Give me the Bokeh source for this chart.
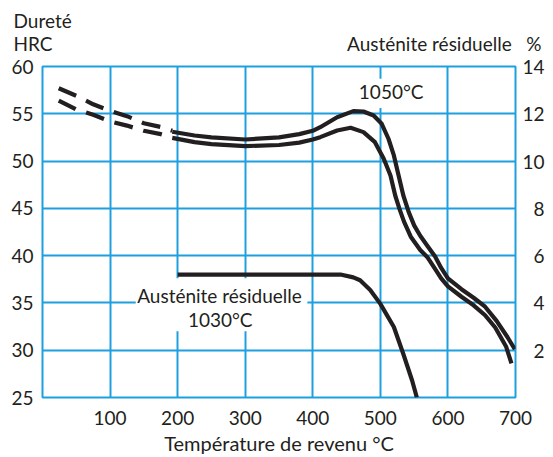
from bokeh.plotting import figure
from bokeh.models import Range1d, FixedTicker, Label, LinearAxis, Title
from bokeh.embed import file_html
from bokeh.resources import INLINE

# ---- data ----
temp_upper_dash = [24, 50, 75, 100, 125, 150, 175, 192]
hrc_upper_dash = [57.7, 56.9, 56.0, 55.3, 54.75, 54.0, 53.6, 53.2]
temp_upper = [192, 225, 250, 300, 350, 380, 400, 411, 436, 460, 475, 490, 502, 512, 520,
              527, 534, 542, 550, 559, 570, 581, 590, 600, 620, 638, 655, 672, 688, 699]
hrc_upper = [53.1, 52.7, 52.5, 52.28, 52.5, 52.85, 53.2, 53.58, 54.64, 55.28, 55.24, 54.82,
             53.94, 52.36, 50.6, 48.48, 46.36, 44.6, 43.2, 42.1, 41.0, 39.9, 38.7, 37.6,
             36.45, 35.55, 34.6, 33.1, 31.4, 30.1]

temp_lower_dash = [24, 50, 75, 100, 125, 150, 175, 192]
hrc_lower_dash = [56.4, 55.45, 54.9, 54.2, 53.75, 53.2, 52.85, 52.5]
temp_lower = [192, 225, 250, 300, 350, 380, 400, 411, 436, 456, 475, 492, 505, 515, 522,
              528, 535, 545, 559, 570, 580, 590, 600, 620, 638, 655, 670, 686, 694]
hrc_lower = [52.45, 52.0, 51.8, 51.58, 51.7, 51.95, 52.28, 52.53, 53.23, 53.52, 53.06, 52.0,
             50.24, 48.48, 46.36, 45.0, 43.6, 42.0, 40.6, 39.8, 38.7, 37.6, 36.75, 35.65,
             34.75, 33.7, 32.4, 30.4, 28.6]

temp_aust = [200, 300, 400, 441, 460, 470, 485, 500, 520, 534, 547, 554]
pct_aust = [5.2, 5.2, 5.2, 5.2, 5.08, 4.96, 4.55, 3.96, 2.98, 1.84, 0.72, 0.0]

x_ticks = [100, 200, 300, 400, 500, 600, 700]
y_ticks = [25, 30, 35, 40, 45, 50, 55, 60]
right_ticks = [2, 4, 6, 8, 10, 12, 14]

# ---- style ----
BLUE = "#1ea0e0"
INK = "#231f20"
FONT = "Lato"
FS = "19px"
FIG = "\u2007"   # figure space, pads one-digit labels so they line up on the right
NB = "\u00a0"

p = figure(width=553, height=457, x_range=Range1d(0, 700), y_range=Range1d(25, 60),
           output_backend="svg", toolbar_location=None,
           min_border_left=42, min_border_right=38, min_border_top=66, min_border_bottom=60)
p.extra_y_ranges = {"aust": Range1d(0, 14)}

p.background_fill_color = "white"
p.border_fill_color = "white"
p.outline_line_color = BLUE
p.outline_line_width = 2


def style_axis(ax, standoff):
    ax.axis_line_color = None
    ax.major_tick_line_color = None
    ax.minor_tick_line_color = None
    ax.major_tick_out = 0
    ax.major_tick_in = 0
    ax.minor_tick_out = 0
    ax.minor_tick_in = 0
    ax.major_label_text_font = FONT
    ax.major_label_text_font_size = FS
    ax.major_label_text_color = INK
    ax.major_label_standoff = standoff


style_axis(p.xaxis[0], 13)
style_axis(p.yaxis[0], 9)
p.xaxis.ticker = FixedTicker(ticks=x_ticks)
p.yaxis.ticker = FixedTicker(ticks=y_ticks)
p.xaxis.axis_label = "Température de revenu °C"
p.xaxis.axis_label_text_font = FONT
p.xaxis.axis_label_text_font_size = "20px"
p.xaxis.axis_label_text_font_style = "normal"
p.xaxis.axis_label_text_color = INK
p.xaxis.axis_label_standoff = 3

# right axis: residual austenite %
raxis = LinearAxis(y_range_name="aust", ticker=FixedTicker(ticks=right_ticks))
style_axis(raxis, 7)
raxis.major_label_overrides = {t: (FIG + str(t) if t < 10 else str(t)) for t in right_ticks}
p.add_layout(raxis, "right")

# title of the right axis (nearest the frame), right-aligned past the frame edge
t_right = Title(text="Austénite résiduelle" + NB * 3 + "%\n" + NB, align="right", offset=-26,
                vertical_align="bottom", standoff=-22, text_font=FONT, text_font_size=FS,
                text_font_style="normal", text_color=INK, text_line_height=1.0)
p.add_layout(t_right, "above")

# title of the left axis, two lines
t_left = Title(text="Dureté\nHRC", align="left", offset=-29, vertical_align="bottom",
               standoff=-28, text_font=FONT, text_font_size=FS, text_font_style="normal",
               text_color=INK, text_line_height=1.0)
p.add_layout(t_left, "above")

p.xgrid.grid_line_color = BLUE
p.ygrid.grid_line_color = BLUE
p.xgrid.grid_line_width = 2
p.ygrid.grid_line_width = 2

# white boxes behind the in-plot labels
p.quad(left=[138], right=[392], bottom=[32.0], top=[37.6], fill_color="white", line_color=None)
p.quad(left=[462], right=[572], bottom=[55.6], top=[58.7], fill_color="white", line_color=None)

# curves
p.line(temp_upper_dash, hrc_upper_dash, line_width=4.2, color=INK, line_dash="19 11")
p.line(temp_lower_dash, hrc_lower_dash, line_width=4.2, color=INK, line_dash="19 11")
p.line(temp_upper, hrc_upper, line_width=4.2, color=INK, line_join="round")
p.line(temp_lower, hrc_lower, line_width=4.2, color=INK, line_join="round")
p.line(temp_aust, pct_aust, line_width=4.2, color=INK, line_join="round", y_range_name="aust")


def lab(x, y, text, align="center", baseline="alphabetic"):
    p.add_layout(Label(x=x, y=y, text=text, text_align=align, text_baseline=baseline,
                       text_font=FONT, text_font_size=FS, text_color=INK))


lab(516, 57.35, "1050°C")
lab(262, 35.75, "Austénite résiduelle")
lab(263, 33.22, "1030°C")

open("out.html", "w").write(file_html(p, INLINE))
